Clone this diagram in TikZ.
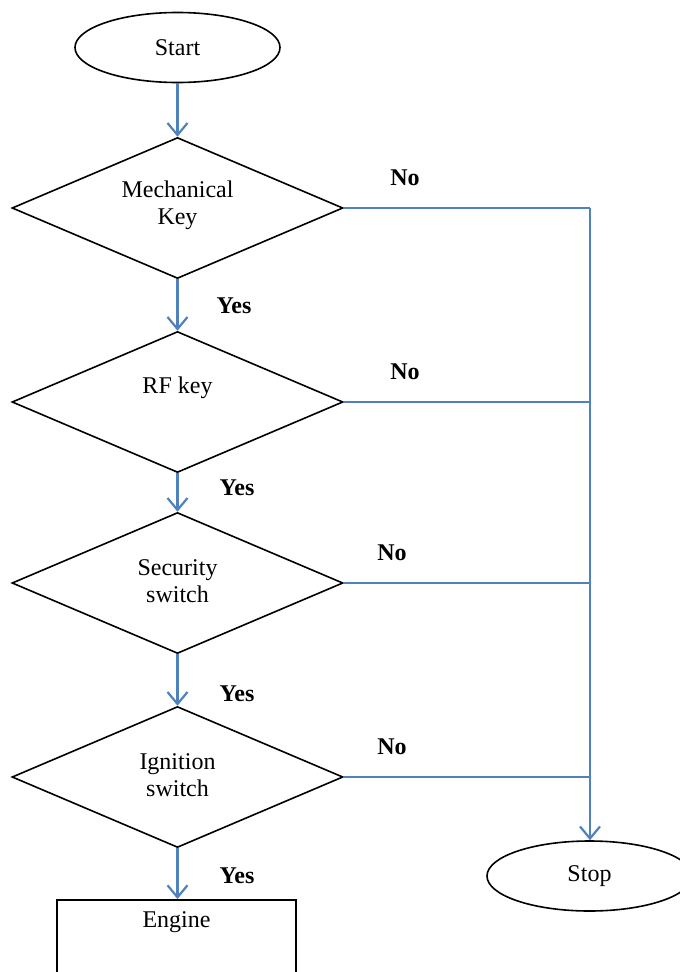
\documentclass[tikz,border=0pt]{standalone}
\usepackage{fontspec}
\setmainfont{Liberation Serif}
\usetikzlibrary{shapes.geometric,arrows.meta}
\definecolor{flowblue}{HTML}{4F81BD}
\begin{document}
\begin{tikzpicture}[x=1pt,y=-1pt,
  decision/.style={diamond,draw=black,line width=1.6pt,minimum width=331pt,minimum height=141pt,inner sep=0pt},
  term/.style={ellipse,draw=black,line width=1.6pt,minimum width=205pt,minimum height=70pt,inner sep=0pt,font=\fontsize{24}{27}\selectfont},
  txt/.style={align=center,inner sep=0pt,font=\fontsize{24}{27}\selectfont},
  lbl/.style={inner sep=0pt,font=\fontsize{24}{27}\selectfont\bfseries},
  flow/.style={draw=flowblue,line width=2.2pt,-{Straight Barb[length=12pt,width=20pt,line width=2.2pt]}},
  link/.style={draw=flowblue,line width=2.2pt}]
\useasboundingbox (0,0) rectangle (680,972);
\clip (0,0) rectangle (680,972);
\node[term] (start) at (177.5,47.5) {Start};
\node[decision] (d1) at (177.5,208) {};
\node[decision] (d2) at (177.5,402) {};
\node[decision] (d3) at (177.5,583) {};
\node[decision] (d4) at (177.5,777) {};
\node[txt] (t1) at (177.5,205) {Mechanical\\Key};
\node[txt] (t2) at (177.5,388) {RF key};
\node[txt] (t3) at (177.5,581) {Security\\switch};
\node[txt] (t4) at (177.5,775) {Ignition\\switch};
\node[draw=black,line width=1.6pt,minimum width=239pt,minimum height=110pt,anchor=north,inner sep=0pt] (engine) at (176.5,899) {};
\node[txt] (te) at (176.5,922) {Engine};
\node[term] (stop) at (589.5,876) {Stop};
\node[lbl] (y1) at (234,306) {Yes};
\node[lbl] (y2) at (237,488) {Yes};
\node[lbl] (y3) at (237,694) {Yes};
\node[lbl] (y4) at (237,876) {Yes};
\node[lbl] (n1) at (405,178) {No};
\node[lbl] (n2) at (405,372) {No};
\node[lbl] (n3) at (392,553) {No};
\node[lbl] (n4) at (392,747) {No};
\coordinate (j1) at (590,208);
\coordinate (j2) at (590,402);
\coordinate (j3) at (590,583);
\coordinate (j4) at (590,777);
\draw[flow] (start.south) -- (d1.north);
\draw[flow] (d1.south) -- (d2.north);
\draw[flow] (d2.south) -- (d3.north);
\draw[flow] (d3.south) -- (d4.north);
\draw[flow] (d4.south) -- (engine.north -| d4.south);
\draw[link] (d1.east) -- (j1);
\draw[link] (d2.east) -- (j2);
\draw[link] (d3.east) -- (j3);
\draw[link] (d4.east) -- (j4);
\draw[flow] (j1) -- (stop.north -| j1);
\end{tikzpicture}
\end{document}
